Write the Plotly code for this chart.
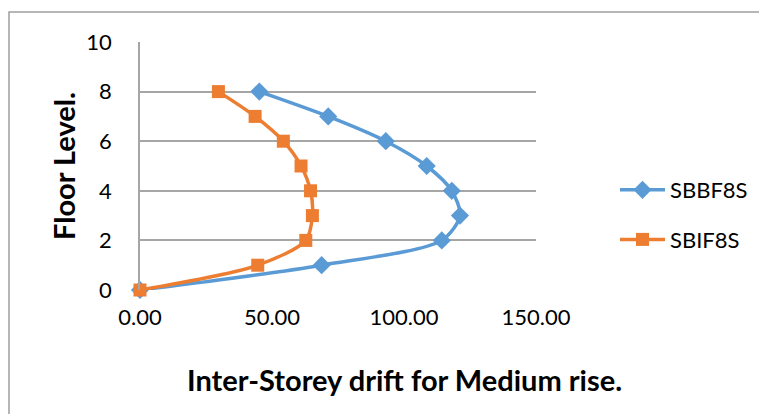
import plotly.graph_objects as go

floors = [0, 1, 2, 3, 4, 5, 6, 7, 8]
sbbf8s = [0.0, 68.8, 114.3, 121.2, 118.1, 108.6, 93.1, 71.3, 45.2]
sbif8s = [0.0, 44.6, 62.8, 65.3, 64.6, 61.0, 54.3, 43.6, 29.7]
x_ticks = [0, 50, 100, 150]
x_tick_text = ["0.00", "50.00", "100.00", "150.00"]
y_ticks = [0, 2, 4, 6, 8, 10]
x_title = "Inter-Storey drift for Medium rise."
y_title = "Floor Level."

FONT = "Lato"
OFF = 8  # browser body margin
W, H = 767 - OFF, 414 - OFF
L, R, T, B = 140 - OFF, 231, 42 - OFF, 124

fig = go.Figure()
fig.add_trace(go.Scatter(
    x=sbbf8s, y=floors, name="SBBF8S", mode="lines+markers", legendgroup="a",
    line=dict(color="#5B9BD5", width=3.5, shape="spline", smoothing=0.8),
    marker=dict(symbol="diamond", size=14, color="#5B9BD5"),
    cliponaxis=False,
))
fig.add_trace(go.Scatter(
    x=sbif8s, y=floors, name="SBIF8S", mode="lines+markers", legendgroup="b",
    line=dict(color="#ED7D31", width=3.5, shape="spline", smoothing=0.8),
    marker=dict(symbol="square", size=13, color="#ED7D31"),
    cliponaxis=False,
))

pw, ph = W - L - R, H - T - B


def px(x):  # page x -> paper
    return (x - 140) / pw


def py(y):  # page y -> paper
    return (290 - y) / ph


fig.add_shape(type="rect", xref="paper", yref="paper",
              x0=px(9), x1=px(790), y0=py(440), y1=py(12),
              line=dict(color="#9e9e9e", width=1.5), fillcolor="rgba(0,0,0,0)", layer="below")

fig.add_annotation(text="<b>" + x_title + "</b>", xref="paper", yref="paper",
                   x=px(404), y=py(379), xanchor="center", yanchor="middle",
                   showarrow=False, font=dict(size=29, family=FONT, color="black"))
fig.add_annotation(text="<b>" + y_title + "</b>", xref="paper", yref="paper",
                   x=px(63), y=py(166), xanchor="center", yanchor="middle", textangle=-90,
                   showarrow=False, font=dict(size=29, family=FONT, color="black"))

fig.update_layout(
    width=W, height=H,
    margin=dict(l=L, r=R, t=T, b=B),
    paper_bgcolor="white", plot_bgcolor="white",
    font=dict(family=FONT, color="black", size=22),
    showlegend=True,
    legend=dict(x=px(615), y=py(215), xanchor="left", yanchor="middle",
                font=dict(size=22, family=FONT), itemwidth=45, tracegroupgap=18,
                bgcolor="rgba(0,0,0,0)"),
    xaxis=dict(range=[0, 150], tickvals=x_ticks, ticktext=x_tick_text,
               showgrid=False, zeroline=False, showline=False,
               ticks="", tickfont=dict(size=22, family=FONT),
               ticklabelstandoff=12),
    yaxis=dict(range=[0, 10], tickvals=y_ticks,
               showgrid=True, gridcolor="#a6a6a6", gridwidth=1.5,
               zeroline=False, showline=True, linecolor="#a6a6a6", linewidth=1.5,
               ticks="", tickfont=dict(size=22, family=FONT),
               ticklabelstandoff=22),
)

fig.write_html("out.html")
